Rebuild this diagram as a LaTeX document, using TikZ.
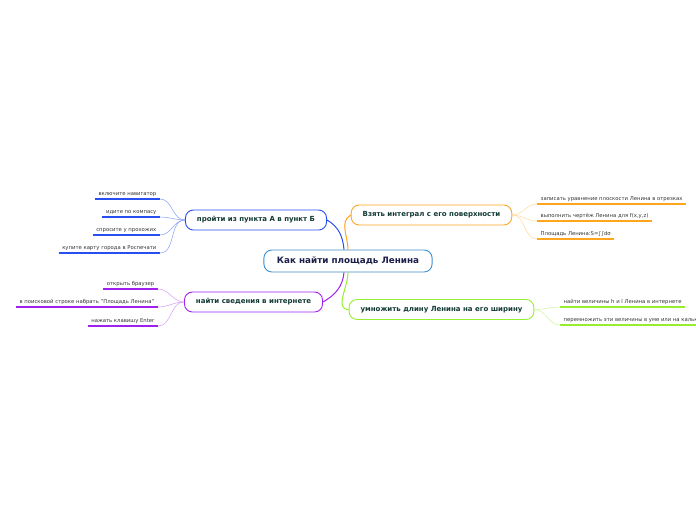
\documentclass[tikz,border=0pt]{standalone}
\usepackage{fontspec}
\setmainfont{DejaVu Sans}
\definecolor{rootline}{HTML}{3D8FD0}
\definecolor{roottext}{HTML}{1B1F4A}
\definecolor{topictext}{HTML}{123A33}
\definecolor{leaftext}{HTML}{333333}
\definecolor{cblue}{HTML}{2850F0}
\definecolor{cpurple}{HTML}{A020F0}
\definecolor{corange}{HTML}{FFA51E}
\definecolor{cgreen}{HTML}{96EE32}
\tikzset{
  root/.style={draw=rootline, line width=0.9pt, rounded corners=8pt, fill=white,
    text=roottext, font=\bfseries\fontsize{8.8}{10}\selectfont,
    minimum height=22pt, inner xsep=13pt},
  topic/.style={draw=#1, line width=0.9pt, rounded corners=8pt, fill=white,
    text=topictext, font=\bfseries\fontsize{7}{8}\selectfont,
    minimum height=20pt, inner xsep=11.5pt},
  leaf/.style={text=leaftext, font=\fontsize{5.3}{6}\selectfont,
    inner xsep=3.5pt, inner ysep=2pt},
  uline/.style={line width=1.3pt, draw=#1},
  twig/.style={line width=0.5pt, draw=#1},
  limb/.style={line width=1pt, draw=#1}
}
\begin{document}
\begin{tikzpicture}[x=1pt,y=-1pt]
  \useasboundingbox (0,0) rectangle (696,520);
  \clip (0,0) rectangle (696,520);
  % central topic and main branches
  \node[root] (root) at (348,261) {Как найти площадь Ленина};
  \node[topic=cblue] (route) at (256,220) {пройти из пункта А в пункт Б};
  \node[topic=cpurple] (web) at (253.5,302) {найти сведения в интернете};
  \node[topic=corange] (integral) at (431.5,215) {Взять интеграл с его поверхности};
  \node[topic=cgreen] (multiply) at (441.5,309.5) {умножить длину Ленина на его ширину};
  \draw[limb=cblue] ([xshift=-4pt]root.north) to[out=95,in=-30] (route.east);
  \draw[limb=corange] ([xshift=0pt]root.north) to[out=90,in=210] (integral.west);
  \draw[limb=cpurple] ([xshift=-4pt]root.south) to[out=-95,in=30] (web.east);
  \draw[limb=cgreen] ([xshift=0pt]root.south) to[out=-90,in=180] (multiply.west);
  % leaves of the first branch
  \node[leaf, anchor=south east] (nav) at (160,199) {включите навигатор};
  \node[leaf, anchor=south east] (compass) at (160,217) {идите по компасу};
  \node[leaf, anchor=south east] (ask) at (160,235) {спросите у прохожих};
  \node[leaf, anchor=south east] (map) at (160,253) {купите карту города в Роспечати};
  \foreach \n in {nav,compass,ask,map}{
    \draw[uline=cblue] (\n.south west) -- (\n.south east);
    \draw[twig=cblue!55] (route.west) to[out=180,in=0] (\n.south east);
  }
  % leaves of the second branch
  \node[leaf, anchor=south east] (browser) at (158,289) {открыть браузер};
  \node[leaf, anchor=south east] (search) at (158,307) {в поисковой строке набрать "Площадь Ленина"};
  \node[leaf, anchor=south east] (enter) at (158,326) {нажать клавишу Enter};
  \foreach \n in {browser,search,enter}{
    \draw[uline=cpurple] (\n.south west) -- (\n.south east);
    \draw[twig=cpurple!45] (web.west) to[out=180,in=0] (\n.south east);
  }
  % leaves of the third branch
  \node[leaf, anchor=south west] (plane) at (537,204) {записать уравнение плоскости Ленина в отрезках};
  \node[leaf, anchor=south west] (sketch) at (537,221) {выполнить чертёж Ленина для f(x,y,z)};
  \node[leaf, anchor=south west] (area) at (537,239) {Площадь Ленина:S=∫∫dσ};
  \foreach \n in {plane,sketch,area}{
    \draw[uline=corange] (\n.south west) -- (\n.south east);
    \draw[twig=corange!45] (integral.east) to[out=0,in=180] (\n.south west);
  }
  % leaves of the fourth branch
  \node[leaf, anchor=south west] (lookup) at (560,307) {найти величины h и l Ленина в интернете};
  \node[leaf, anchor=south west] (product) at (560,325) {перемножить эти величины в уме или на калькуляторе};
  \foreach \n in {lookup,product}{
    \draw[uline=cgreen] (\n.south west) -- (\n.south east);
    \draw[twig=cgreen!50] (multiply.east) to[out=0,in=180] (\n.south west);
  }
\end{tikzpicture}
\end{document}
